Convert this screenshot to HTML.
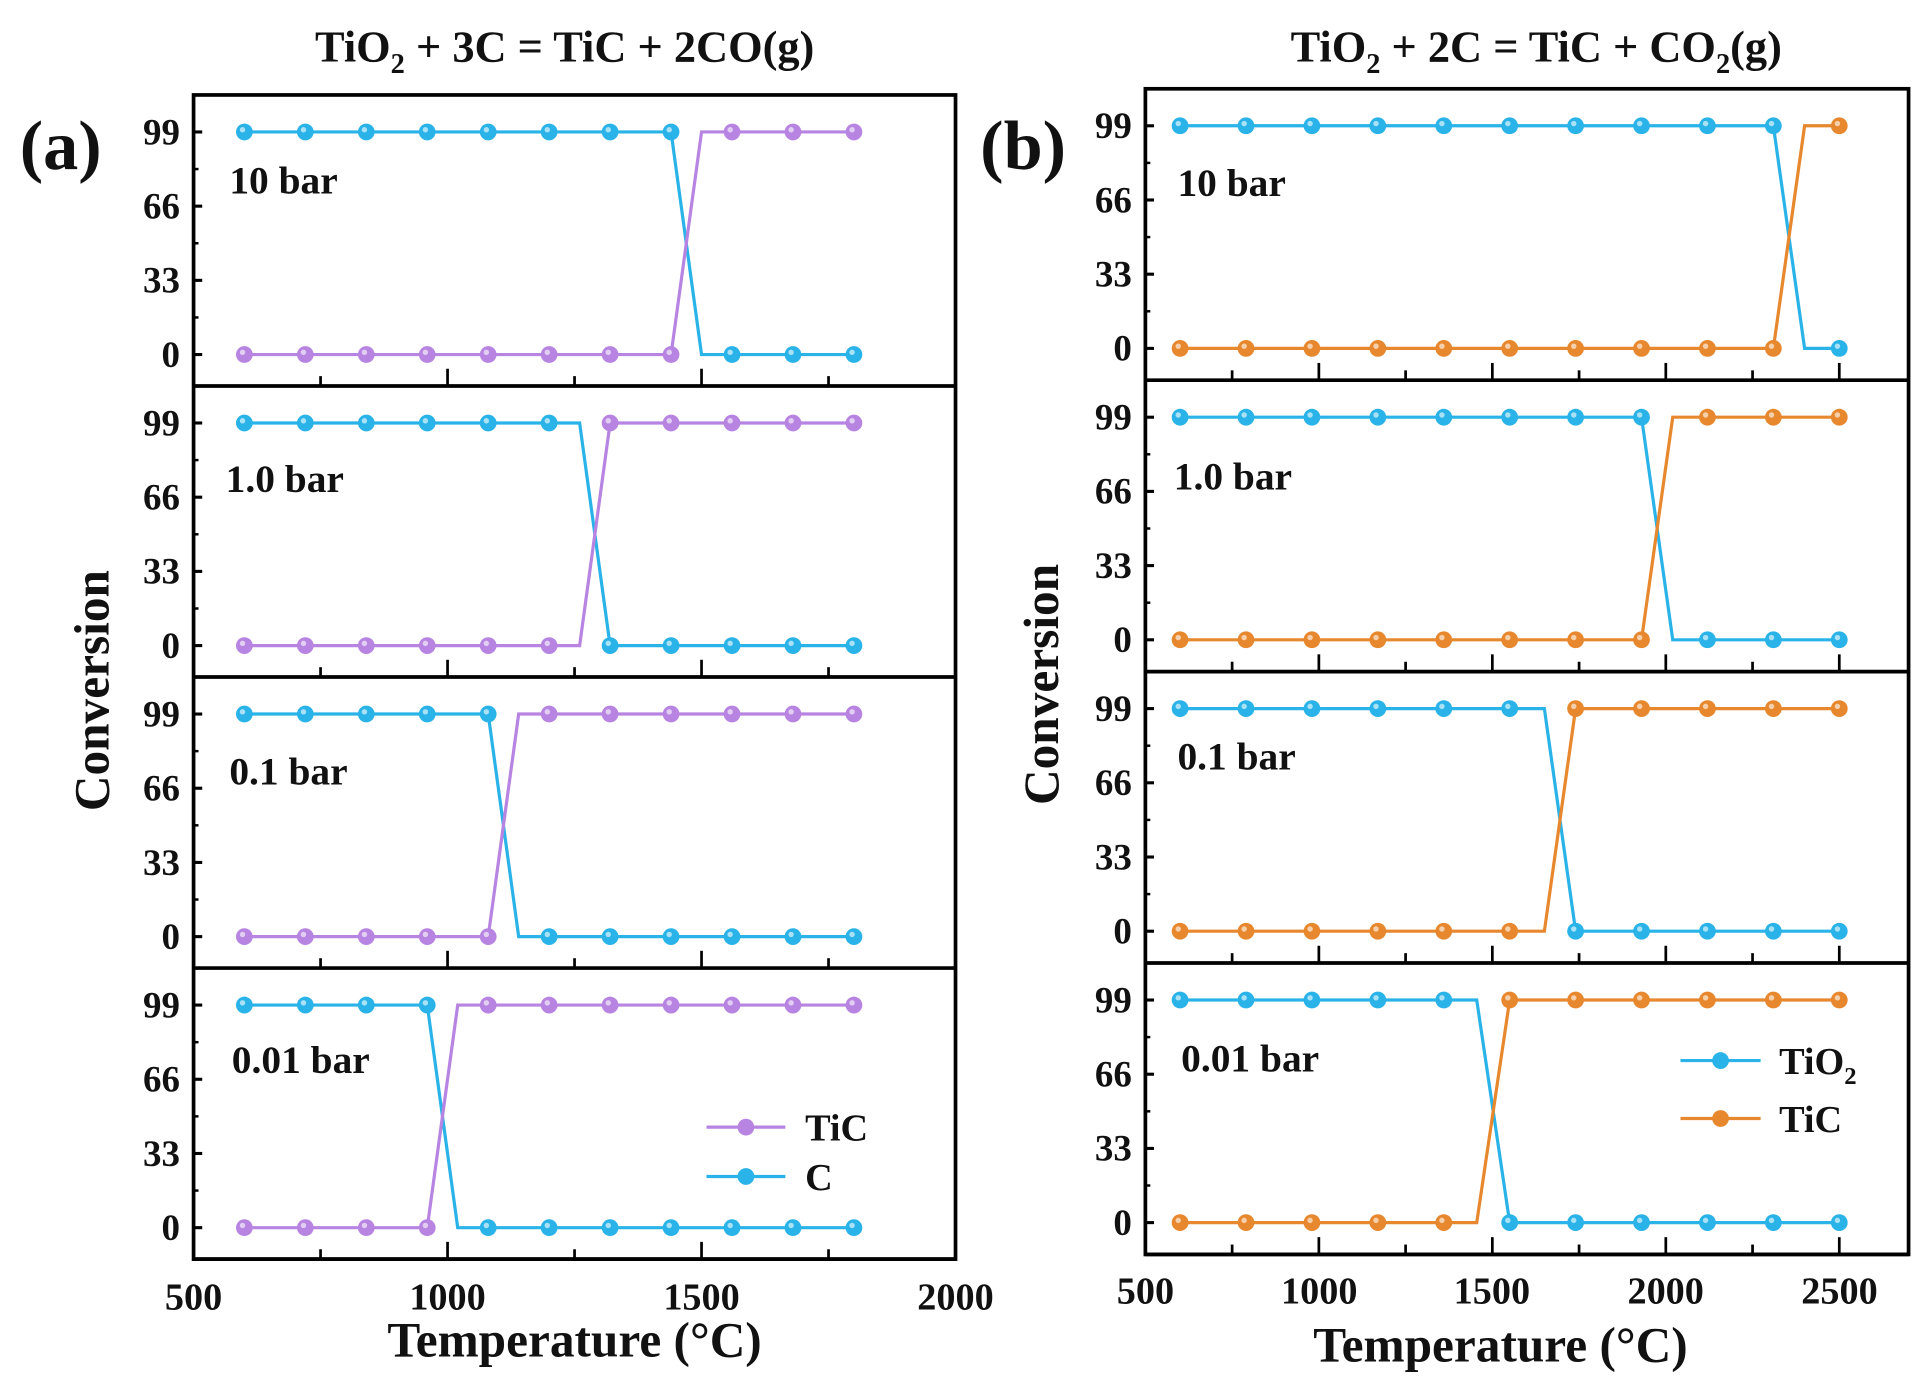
<!DOCTYPE html>
<html><head><meta charset="utf-8"><style>
html,body{margin:0;padding:0;background:#fff}
svg{display:block}
text{font-family:"Liberation Serif",serif;font-weight:bold;fill:#111}
</style></head><body>
<svg id="s" width="1932" height="1396" viewBox="0 0 1567 1132" preserveAspectRatio="none" xmlns="http://www.w3.org/2000/svg">
<rect width="1567" height="1132" fill="#fff"/>
<g id="g"></g>
<text x="458" y="50" font-size="36" text-anchor="middle">TiO<tspan font-size="23" dy="9">2</tspan><tspan dy="-9"> + 3C = TiC + 2CO(g)</tspan></text>
<text x="1246" y="50" font-size="36" text-anchor="middle">TiO<tspan font-size="23" dy="9">2</tspan><tspan dy="-9"> + 2C = TiC + CO</tspan><tspan font-size="23" dy="9">2</tspan><tspan dy="-9">(g)</tspan></text>
<text x="16" y="137" font-size="57">(a)</text>
<text x="795" y="137" font-size="57">(b)</text>
<text transform="translate(88,560) rotate(-90)" font-size="40" text-anchor="middle">Conversion</text>
<text transform="translate(858,555) rotate(-90)" font-size="40" text-anchor="middle">Conversion</text>
<text x="466" y="1100" font-size="40" text-anchor="middle">Temperature (°C)</text>
<text x="1217" y="1104" font-size="40" text-anchor="middle">Temperature (°C)</text>
<g font-size="32">
<text x="186" y="157">10 bar</text>
<text x="183" y="399">1.0 bar</text>
<text x="186" y="636">0.1 bar</text>
<text x="188" y="870">0.01 bar</text>
<text x="955" y="159">10 bar</text>
<text x="952" y="397">1.0 bar</text>
<text x="955" y="624">0.1 bar</text>
<text x="958" y="869">0.01 bar</text>
</g>
<g font-size="31" text-anchor="middle">
<text x="157" y="1062">500</text><text x="363" y="1062">1000</text><text x="569" y="1062">1500</text><text x="775" y="1062">2000</text>
<text x="929" y="1057">500</text><text x="1070" y="1057">1000</text><text x="1210" y="1057">1500</text><text x="1351" y="1057">2000</text><text x="1492" y="1057">2500</text>
</g>
<g font-size="31">
<text x="653" y="925">TiC</text>
<text x="653" y="965">C</text>
<text x="1443" y="871">TiO<tspan font-size="20" dy="8">2</tspan></text>
<text x="1443" y="918">TiC</text>
</g>
<g id="yl" font-size="30" text-anchor="end"></g>
</svg>
<script>
const NS="http://www.w3.org/2000/svg",g=document.getElementById('g'),yl=document.getElementById('yl');
function el(t,a,p){const e=document.createElementNS(NS,t);for(const k in a)e.setAttribute(k,a[k]);(p||g).appendChild(e);return e;}
const P='#b884e2',B='#2ab3e8',O='#e8882e';
const panels=[
 {L:157,R:775,T:77,H:236,x0:500,xs:618/1500,lab:146,
  xt:[500,750,1000,1250,1500,1750,2000],maj:[1000,1500],
  xsPts:[600,720,840,960,1080,1200,1320,1440,1560,1680,1800],
  c1:B,c2:P,
  subs:[[7,1500,1500],[5,1260,1320],[4,1140,1140],[3,1020,1020]]},
 {L:929,R:1548,T:72,H:236.3,x0:500,xs:140.7/500,lab:918,
  xt:[750,1000,1250,1500,1750,2000,2250,2500],maj:[1000,1500,2000,2500],
  xsPts:[600,790,980,1170,1360,1550,1740,1930,2120,2310,2500],
  c1:B,c2:O,
  subs:[[9,2400,2400],[7,2020,2020],[5,1650,1740],[4,1455,1550]]}
];
panels.forEach(p=>{
 const X=v=>p.L+(v-p.x0)*p.xs;
 p.subs.forEach((s,i)=>{
  const top=p.T+i*p.H,y99=top+30,y0=top+210.5,Y=v=>y0-(y0-y99)*v/99;
  const [k,brk,end]=s;
  [[p.c1,99,0],[p.c2,0,99]].forEach(([c,a,b])=>{
   let pts=[];for(let j=0;j<=k;j++)pts.push([X(p.xsPts[j]),Y(a)]);
   if(brk>p.xsPts[k]&&brk<end)pts.push([X(brk),Y(a)]);
   pts.push([X(end),Y(b)]);
   for(let j=k+1;j<p.xsPts.length;j++)pts.push([X(p.xsPts[j]),Y(b)]);
   el('polyline',{points:pts.map(q=>q.join(',')).join(' '),fill:'none',stroke:c,'stroke-width':2.6});
  });
  [[p.c1,99,0],[p.c2,0,99]].forEach(([c,a,b])=>{
   p.xsPts.forEach((v,j)=>{const yy=j<=k?Y(a):Y(b);
    el('circle',{cx:X(v),cy:yy,r:6.8,fill:c});
    el('circle',{cx:X(v)-1.5,cy:yy-1.8,r:2.2,fill:'#fff',opacity:.6});});
  });
  [0,33,66,99].forEach(v=>{el('line',{x1:p.L,x2:p.L+7,y1:Y(v),y2:Y(v),stroke:'#000','stroke-width':2.5});
   const t=el('text',{x:p.lab,y:Y(v)+10},yl);t.textContent=v;});
  [16.5,49.5,82.5].forEach(v=>el('line',{x1:p.L,x2:p.L+4,y1:Y(v),y2:Y(v),stroke:'#000','stroke-width':2}));
  const bot=top+p.H;
  p.xt.forEach(v=>{const m=p.maj.includes(v);el('line',{x1:X(v),x2:X(v),y1:bot,y2:bot-(m?14:8),stroke:'#000','stroke-width':2.2});});
  el('line',{x1:p.L,x2:p.R,y1:bot,y2:bot,stroke:'#000','stroke-width':3});
 });
 el('rect',{x:p.L,y:p.T,width:p.R-p.L,height:p.H*4,fill:'none',stroke:'#000','stroke-width':3});
});
function leg(x1,x2,y,c){el('line',{x1:x1,x2:x2,y1:y,y2:y,stroke:c,'stroke-width':2.6});el('circle',{cx:(x1+x2)/2,cy:y,r:6.8,fill:c});}
leg(573,637,914,P);leg(573,637,954,B);leg(1363,1428,860,B);leg(1363,1428,907,O);
</script>
</body></html>
